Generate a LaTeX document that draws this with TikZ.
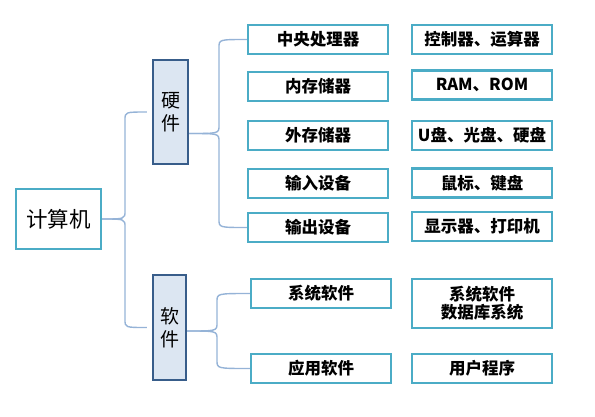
\documentclass[tikz,border=0pt]{standalone}
\usepackage{fontspec}
\setmainfont{Noto Sans CJK SC}
\usetikzlibrary{calc}
\definecolor{leafc}{HTML}{4BACC6}
\definecolor{catfill}{HTML}{DCE6F2}
\definecolor{catdraw}{HTML}{385D8A}
\definecolor{linec}{HTML}{95B3D7}
\tikzset{
  leaf/.style={draw=leafc, line width=2.2pt, fill=white, minimum width=140pt, minimum height=29pt, inner sep=0pt, align=center, font=\fontsize{16.5}{18}\selectfont\bfseries},
  cat/.style={draw=catdraw, line width=2.2pt, fill=catfill, inner sep=0pt, align=center, font=\fontsize{19}{23}\selectfont},
  rootbox/.style={draw=leafc, line width=2.2pt, fill=white, minimum width=85pt, minimum height=60pt, inner sep=0pt, font=\fontsize{21.5}{24}\selectfont},
  conn/.style={draw=linec, line width=1.4pt},
}
\begin{document}
\begin{tikzpicture}[x=1pt,y=-1pt]
\useasboundingbox (0,0) rectangle (595,416);
\node[rootbox] (jsj) at (58.5,219) {计算机};
\node[cat, minimum width=35pt, minimum height=104pt] (yj) at (170.5,112) {硬\\件};
\node[cat, minimum width=33pt, minimum height=105pt] (rj) at (169.5,327.5) {软\\件};

\node[leaf] (cpu) at (318,39.5) {中央处理器};
\node[leaf] (nc) at (318,86.5) {内存储器};
\node[leaf] (wc) at (318,135.5) {外存储器};
\node[leaf] (sr) at (318,183.5) {输入设备};
\node[leaf] (sc) at (318,227.5) {输出设备};
\node[leaf] (xt) at (321,293.5) {系统软件};
\node[leaf] (yy) at (321,368.5) {应用软件};

\node[leaf] (kz) at (482,39.5) {控制器、运算器};
\node[leaf] (ram) at (482,85) {RAM、ROM};
\node[leaf] (up) at (482,135.5) {U盘、光盘、硬盘};
\node[leaf] (sb) at (482,183) {鼠标、键盘};
\node[leaf] (xs) at (482,226.5) {显示器、打印机};
\node[leaf, minimum height=49pt] (sj) at (482,303.5) {系统软件\\数据库系统};
\node[leaf] (yh) at (482,368.5) {用户程序};

% root brace
\coordinate (b1) at (125,0);
\coordinate (l1) at ([xshift=-5pt]yj.west);
\coordinate (l2) at ([xshift=-5pt]rj.west);
\draw[conn] (jsj.east) .. controls (jsj.east -| b1) .. ($(jsj.east -| b1)+(0,-8)$)
  -- ($(l1 -| b1)+(0,8)$) .. controls (l1 -| b1) .. (l1);
\draw[conn] (jsj.east) .. controls (jsj.east -| b1) .. ($(jsj.east -| b1)+(0,8)$)
  -- ($(l2 -| b1)+(0,-8)$) .. controls (l2 -| b1) .. (l2);

% hardware brace
\coordinate (b2) at (219,0);
\coordinate (h0) at (yj.east |- {$(cpu.west)!0.5!(sc.west)$});
\draw[conn] (h0) .. controls (h0 -| b2) .. ($(h0 -| b2)+(0,-8)$)
  -- ($(cpu.west -| b2)+(0,8)$) .. controls (cpu.west -| b2) .. (cpu.west);
\draw[conn] (h0) .. controls (h0 -| b2) .. ($(h0 -| b2)+(0,8)$)
  -- ($(sc.west -| b2)+(0,-8)$) .. controls (sc.west -| b2) .. (sc.west);

% software brace
\coordinate (b3) at (217,0);
\coordinate (s0) at (rj.east |- {$(xt.west)!0.5!(yy.west)$});
\draw[conn] (s0) .. controls (s0 -| b3) .. ($(s0 -| b3)+(0,-8)$)
  -- ($(xt.west -| b3)+(0,8)$) .. controls (xt.west -| b3) .. (xt.west);
\draw[conn] (s0) .. controls (s0 -| b3) .. ($(s0 -| b3)+(0,8)$)
  -- ($(yy.west -| b3)+(0,-8)$) .. controls (yy.west -| b3) .. (yy.west);
\end{tikzpicture}
\end{document}
